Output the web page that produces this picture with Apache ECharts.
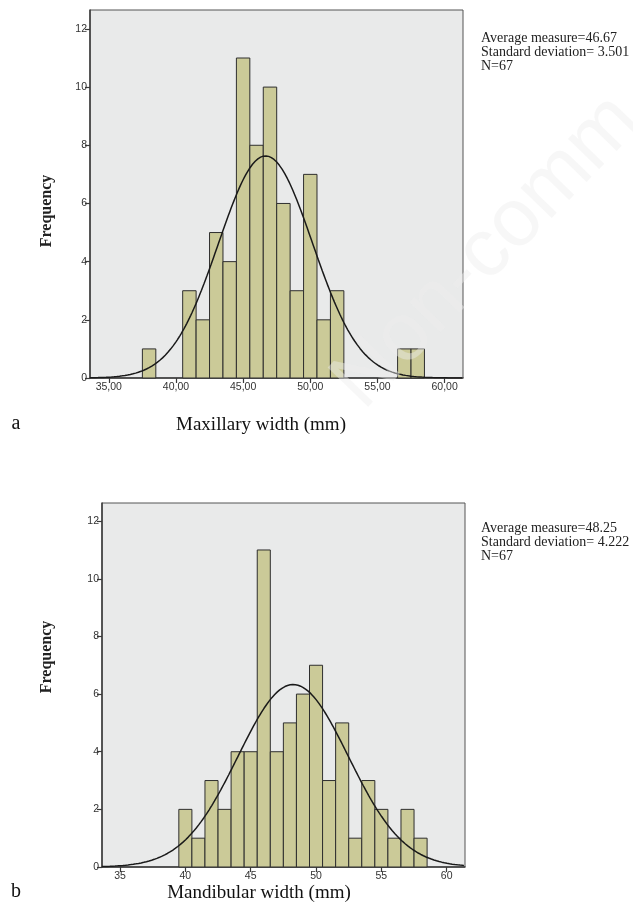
<!DOCTYPE html>
<html>
<head>
<meta charset="utf-8">
<script src="https://cdn.jsdelivr.net/npm/echarts@6/dist/echarts.min.js"></script>
<style>
  html, body { margin: 0; padding: 0; background: #fff; }
  #main { width: 633px; height: 905px; }
</style>
</head>
<body>
<div id="main"></div>
<script>
(function () {

  // bin centres (mm) and counts, bin width 1 mm
  var maxBins = [38, 41, 42, 43, 44, 45, 46, 47, 48, 49, 50, 51, 52, 57, 58];
  var maxCounts = [1, 3, 2, 5, 4, 11, 8, 10, 6, 3, 7, 2, 3, 1, 1];
  var mandBins = [40, 41, 42, 43, 44, 45, 46, 47, 48, 49, 50, 51, 52, 53, 54, 55, 56, 57, 58];
  var mandCounts = [2, 1, 3, 2, 4, 4, 11, 4, 5, 6, 7, 3, 5, 1, 3, 2, 1, 2, 1];
  var binWidth = 1;

  // summary stats printed next to each chart
  var maxStats = { mean: 46.67, sd: 3.501, n: 67 };
  var mandStats = { mean: 48.25, sd: 4.222, n: 67 };

  var xTicks = [35, 40, 45, 50, 55, 60];
  var yTicks = [0, 2, 4, 6, 8, 10, 12];

  var barFill = '#CBCA98';
  var axisColor = '#3a3a3a';
  var plotBg = '#E9EAEA';

  function normalCurve(stats, from, to) {
    var pts = [];
    for (var x = from; x <= to + 1e-9; x += 0.1) {
      var z = (x - stats.mean) / stats.sd;
      var y = stats.n * binWidth / (stats.sd * Math.sqrt(2 * Math.PI)) * Math.exp(-0.5 * z * z);
      pts.push([x, y]);
    }
    return pts;
  }

  function zip(a, b) {
    return a.map(function (v, i) { return [v, b[i]]; });
  }

  function renderBar(params, api) {
    var x = api.value(0), y = api.value(1);
    var p0 = api.coord([x - binWidth / 2, y]);
    var p1 = api.coord([x + binWidth / 2, 0]);
    return {
      type: 'rect',
      shape: { x: p0[0], y: p0[1], width: p1[0] - p0[0], height: p1[1] - p0[1] },
      style: { fill: barFill, stroke: '#2e2e2e', lineWidth: 1 }
    };
  }

  function xAxis(idx, min, max, fmt) {
    return {
      gridIndex: idx, type: 'value', min: min, max: max,
      axisLine: { show: true, onZero: false, lineStyle: { color: axisColor, width: 1.5 } },
      axisTick: { show: true, customValues: xTicks, length: 5, lineStyle: { color: axisColor, width: 1.2 } },
      axisLabel: { customValues: xTicks, formatter: fmt, fontSize: 10.5, color: '#333', margin: 4, fontFamily: 'Liberation Sans' },
      splitLine: { show: false }
    };
  }

  function yAxis(idx, max) {
    return {
      gridIndex: idx, type: 'value', min: 0, max: max,
      axisLine: { show: true, lineStyle: { color: axisColor, width: 1.5 } },
      axisTick: { show: true, customValues: yTicks, length: 5, lineStyle: { color: axisColor, width: 1.2 } },
      axisLabel: { customValues: yTicks, fontSize: 10.5, color: '#333', margin: 3, fontFamily: 'Liberation Sans' },
      splitLine: { show: false }
    };
  }

  var statFont = '14px "Liberation Serif"';
  function statLines(stats, top) {
    var lines = [
      'Average measure=' + stats.mean.toFixed(2),
      'Standard deviation= ' + stats.sd.toFixed(3),
      'N=' + stats.n
    ];
    return lines.map(function (t, i) {
      return { type: 'text', left: 481, top: top + i * 14, style: { text: t, font: statFont, fill: '#222' } };
    });
  }

  var myChart = echarts.init(document.getElementById('main'));

  var option = {
    animation: false,
    backgroundColor: '#fff',
    grid: [
      { left: 90, top: 10, right: 170, bottom: 527, show: true, backgroundColor: plotBg, borderColor: '#555', borderWidth: 1 },
      { left: 102, top: 503, right: 168, bottom: 38, show: true, backgroundColor: plotBg, borderColor: '#555', borderWidth: 1 }
    ],
    xAxis: [
      xAxis(0, 33.6, 61.37, function (v) { return v.toFixed(2).replace('.', ','); }),
      xAxis(1, 33.62, 61.4, function (v) { return String(v); })
    ],
    yAxis: [yAxis(0, 12.65), yAxis(1, 12.63)],
    series: [
      { type: 'custom', xAxisIndex: 0, yAxisIndex: 0, renderItem: renderBar, data: zip(maxBins, maxCounts) },
      { type: 'line', xAxisIndex: 0, yAxisIndex: 0, showSymbol: false, clip: true,
        lineStyle: { color: '#1a1a1a', width: 1.5 }, data: normalCurve(maxStats, 33.6, 61.37), z: 3 },
      { type: 'custom', xAxisIndex: 1, yAxisIndex: 1, renderItem: renderBar, data: zip(mandBins, mandCounts) },
      { type: 'line', xAxisIndex: 1, yAxisIndex: 1, showSymbol: false, clip: true,
        lineStyle: { color: '#1a1a1a', width: 1.5 }, data: normalCurve(mandStats, 33.62, 61.4), z: 3 }
    ],
    graphic: [
      { type: 'text', x: 47, y: 211, rotation: Math.PI / 2,
        style: { text: 'Frequency', font: 'bold 16px "Liberation Serif"', fill: '#222', align: 'center', verticalAlign: 'middle' } },
      { type: 'text', x: 47, y: 657, rotation: Math.PI / 2,
        style: { text: 'Frequency', font: 'bold 16px "Liberation Serif"', fill: '#222', align: 'center', verticalAlign: 'middle' } },
      { type: 'text', x: 261, y: 425,
        style: { text: 'Maxillary width (mm)', font: '19px "Liberation Serif"', fill: '#111', align: 'center', verticalAlign: 'middle' } },
      { type: 'text', x: 16, y: 424,
        style: { text: 'a', font: '20px "Liberation Serif"', fill: '#111', align: 'center', verticalAlign: 'middle' } },
      { type: 'text', x: 259, y: 893,
        style: { text: 'Mandibular width (mm)', font: '19px "Liberation Serif"', fill: '#111', align: 'center', verticalAlign: 'middle' } },
      { type: 'text', x: 16, y: 892,
        style: { text: 'b', font: '20px "Liberation Serif"', fill: '#111', align: 'center', verticalAlign: 'middle' } },
      { type: 'text', x: 487, y: 252, rotation: 0.8, z: 100,
        style: { text: 'Non-comm', font: '82px "Liberation Sans"', fill: '#eeeeee', opacity: 0.45, align: 'center', verticalAlign: 'middle' } }
    ].concat(statLines(maxStats, 31)).concat(statLines(mandStats, 521))
  };

  myChart.setOption(option);

})();
</script>
</body>
</html>
